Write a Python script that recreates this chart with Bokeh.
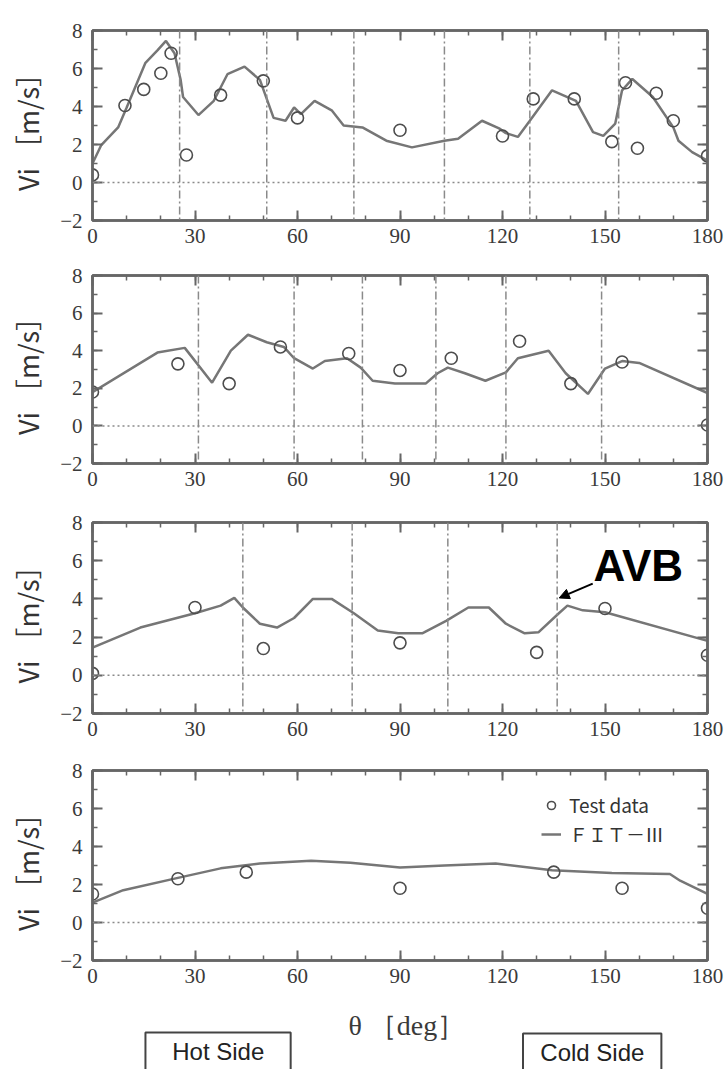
from bokeh.plotting import figure
from bokeh.models import (Range1d, LinearAxis, SingleIntervalTicker, Span, Label,
                          Arrow, NormalHead, Legend, LegendItem, CustomJSTickFormatter)
from bokeh.core.properties import value
from bokeh.layouts import column
from bokeh.embed import file_html
from bokeh.resources import INLINE

# ---------------- data ----------------
x_ticks_interval = 30
row_names = ["Row45", "Row30", "Row17", "Row07"]

# Row45
fit45_theta = [0, 2.5, 7.5, 10, 15.5, 19, 21.5, 24, 25.8, 26.5, 31, 35.5, 39.5, 44.5, 49, 53,
               56.5, 59, 61, 65, 70, 73.5, 79, 86, 93.5, 103, 107, 114, 119, 121, 124.5, 128,
               134.5, 141.5, 146.5, 149.5, 153, 155, 158, 164, 170, 171.5, 175.5, 180]
fit45_vi = [1.0, 1.95, 2.9, 3.95, 6.3, 6.95, 7.45, 6.8, 5.4, 4.5, 3.55, 4.3, 5.7, 6.1, 5.4, 3.4,
            3.25, 3.95, 3.6, 4.3, 3.8, 3.0, 2.9, 2.2, 1.85, 2.2, 2.3, 3.25, 2.85, 2.6, 2.4, 3.25,
            4.85, 4.3, 2.65, 2.45, 3.1, 4.85, 5.45, 4.5, 2.9, 2.2, 1.6, 1.15]
test45_theta = [0, 9.5, 15, 20, 23, 27.5, 37.5, 50, 60, 90, 120, 129, 141, 152, 156, 159.5, 165, 170, 180]
test45_vi = [0.4, 4.05, 4.9, 5.75, 6.8, 1.45, 4.6, 5.35, 3.4, 2.75, 2.45, 4.4, 4.4, 2.15, 5.25, 1.8, 4.7, 3.25, 1.4]
support45 = [25.5, 51, 76.5, 103, 128, 154]

# Row30
fit30_theta = [0, 19, 27, 35, 40.5, 45.5, 51, 56, 59, 64.5, 68, 74.5, 78.5, 82, 88.5, 97.5, 101,
               104, 109, 115, 121, 124.5, 133.5, 138.5, 145, 150, 155, 160, 180]
fit30_vi = [1.8, 3.9, 4.15, 2.3, 4.0, 4.85, 4.45, 4.2, 3.6, 3.05, 3.45, 3.6, 3.1, 2.4, 2.25, 2.25,
            2.8, 3.1, 2.8, 2.4, 2.85, 3.6, 4.0, 2.8, 1.7, 3.05, 3.45, 3.35, 1.75]
test30_theta = [0, 25, 40, 55, 75, 90, 105, 125, 140, 155, 180]
test30_vi = [1.8, 3.3, 2.25, 4.2, 3.85, 2.95, 3.6, 4.5, 2.25, 3.4, 0.05]
support30 = [31, 59, 79, 100.5, 121, 149]

# Row17
fit17_theta = [0, 14, 30, 37.5, 41.5, 44, 49, 54, 59, 64.5, 70, 76.5, 83.5, 89.5, 96.5, 103.5,
               110, 116, 121, 126.5, 130.5, 136.5, 139, 143.5, 150, 180]
fit17_vi = [1.45, 2.5, 3.25, 3.65, 4.05, 3.55, 2.7, 2.5, 3.0, 4.0, 4.0, 3.25, 2.35, 2.2, 2.2, 2.85,
            3.55, 3.55, 2.7, 2.2, 2.25, 3.25, 3.65, 3.4, 3.3, 1.8]
test17_theta = [0, 30, 50, 90, 130, 150, 180]
test17_vi = [0.1, 3.55, 1.4, 1.7, 1.2, 3.5, 1.05]
support17 = [44, 76, 104, 136]

# Row07
fit07_theta = [0, 9, 25, 37.5, 49, 64, 75.5, 90, 103, 118, 134.5, 152, 169, 172, 180]
fit07_vi = [1.05, 1.7, 2.35, 2.85, 3.1, 3.25, 3.15, 2.9, 3.0, 3.1, 2.75, 2.6, 2.55, 2.2, 1.5]
test07_theta = [0, 25, 45, 90, 135, 155, 180]
test07_vi = [1.5, 2.3, 2.65, 1.8, 2.65, 1.8, 0.75]
support07 = []

side_labels = ["Hot Side", "Cold Side"]

# ---------------- styling ----------------
W = 725
AX = "#666666"
FIT_COLOR = "#767676"
TEST_COLOR = "#4d4d4d"
SERIF = "Liberation Serif"


def style_axis(ax, labels=True, standoff=8):
    ax.axis_line_color = AX
    ax.axis_line_width = 2.5
    ax.major_tick_in = 10
    ax.major_tick_out = 0
    ax.minor_tick_in = 5
    ax.minor_tick_out = 0
    ax.major_tick_line_color = AX
    ax.major_tick_line_width = 2
    ax.minor_tick_line_color = AX
    ax.minor_tick_line_width = 1.5
    ax.major_label_text_font = SERIF
    ax.major_label_text_color = "#3a3a3a"
    ax.major_label_text_font_size = "21px"
    ax.major_label_standoff = standoff
    if not labels:
        ax.formatter = CustomJSTickFormatter(code="return ''")
        ax.major_label_standoff = 0


def make_panel(name, fx, fy, tx, ty, supports, top, frame_h, bottom):
    p = figure(width=W, height=top + frame_h + bottom,
               x_range=Range1d(0, 180), y_range=Range1d(-2, 8),
               x_axis_type=None, y_axis_type=None,
               output_backend="svg", toolbar_location=None,
               min_border_left=92, min_border_right=18,
               min_border_top=top, min_border_bottom=bottom)
    p.grid.visible = False
    p.outline_line_color = AX
    p.outline_line_width = 2.5
    p.background_fill_color = "white"
    p.border_fill_color = "white"

    xt = lambda: SingleIntervalTicker(interval=x_ticks_interval, num_minor_ticks=3)
    yt = lambda: SingleIntervalTicker(interval=2, num_minor_ticks=2)

    bx = LinearAxis(ticker=xt())
    style_axis(bx, standoff=8)
    p.add_layout(bx, "below")

    ly = LinearAxis(ticker=yt())
    style_axis(ly, standoff=10)
    ly.axis_label = "Vi ［m/s］"
    ly.axis_label_text_font = "Noto Sans CJK JP"
    ly.axis_label_text_font_size = "27px"
    ly.axis_label_text_font_style = "normal"
    ly.axis_label_text_color = "#333333"
    ly.axis_label_standoff = 10
    p.add_layout(ly, "left")

    tx_ax = LinearAxis(ticker=xt())
    style_axis(tx_ax, labels=False)
    p.add_layout(tx_ax, "above")
    ry = LinearAxis(ticker=yt())
    style_axis(ry, labels=False)
    p.add_layout(ry, "right")

    p.add_layout(Span(location=0, dimension="width", line_color="#8a8a8a",
                      line_width=1.5, line_dash="2 3"))
    for s in supports:
        p.add_layout(Span(location=s, dimension="height", line_color="#8a8a8a",
                          line_width=1.5, line_dash="8 3 2 3"))

    r_line = p.line(fx, fy, line_color=FIT_COLOR, line_width=2.5)
    r_pts = p.scatter(tx, ty, marker="circle", size=12, fill_color=None,
                      line_color=TEST_COLOR, line_width=1.6)

    p.add_layout(Label(x=180, y=8, text=name, text_align="right", text_baseline="bottom",
                       y_offset=4, text_font=SERIF, text_font_size="15px",
                       text_color="#555555"))
    return p, r_line, r_pts


p1, _, _ = make_panel(row_names[0], fit45_theta, fit45_vi, test45_theta, test45_vi, support45, 30, 190, 36)
p2, _, _ = make_panel(row_names[1], fit30_theta, fit30_vi, test30_theta, test30_vi, support30, 19, 188, 36)
p3, _, _ = make_panel(row_names[2], fit17_theta, fit17_vi, test17_theta, test17_vi, support17, 23, 191, 36)
p4, rl4, rp4 = make_panel(row_names[3], fit07_theta, fit07_vi, test07_theta, test07_vi, support07, 21, 190, 36)

# AVB annotation in Row17
p3.add_layout(Label(x=146.6, y=5.75, text="AVB", text_align="left", text_baseline="middle",
                    text_font="Liberation Sans", text_font_size="44px",
                    text_font_style="bold", text_color="black"))
p3.add_layout(Arrow(end=NormalHead(size=10, fill_color="black", line_color="black"),
                    x_start=146.4, y_start=4.8, x_end=136.6, y_end=4.05,
                    line_color="black", line_width=2))

# legend in Row07
legend = Legend(items=[LegendItem(label="Test data", renderers=[rp4]),
                       LegendItem(label="ＦＩＴ－Ⅲ", renderers=[rl4])],
                location=(449, 113), border_line_color=None, background_fill_alpha=0,
                label_text_font="Noto Sans CJK JP", label_text_font_size="19px",
                label_text_color="#333333", glyph_width=20, glyph_height=20,
                spacing=2, padding=10, label_standoff=8)
p4.add_layout(legend)

# bottom strip: x-axis title and the hot / cold side boxes (same horizontal scale as the panels)
p5 = figure(width=W, height=73, x_range=Range1d(0, 180), y_range=Range1d(0, 73),
            x_axis_type=None, y_axis_type=None, output_backend="svg", toolbar_location=None,
            min_border_left=92, min_border_right=18, min_border_top=0, min_border_bottom=0)
p5.grid.visible = False
p5.outline_line_color = None
p5.border_fill_color = "white"
p5.add_layout(Label(x=92, y=44, text="θ ［deg］", text_align="center", text_baseline="middle",
                    text_font=SERIF, text_font_size="28px", text_color="#3a3a3a"))
p5.quad(left=[15.5, 126], right=[58, 166.5], top=[37, 36], bottom=[-10, -10],
        fill_color="white", line_color="#444444", line_width=2)
p5.text(x=[36.8, 146.3], y=[18, 17], text=side_labels, text_align="center",
        text_baseline="middle", text_font=value("Liberation Sans"),
        text_font_size="24px", text_color="#222222")

layout = column(p1, p2, p3, p4, p5, spacing=0)
open("out.html", "w").write(file_html(layout, INLINE))
